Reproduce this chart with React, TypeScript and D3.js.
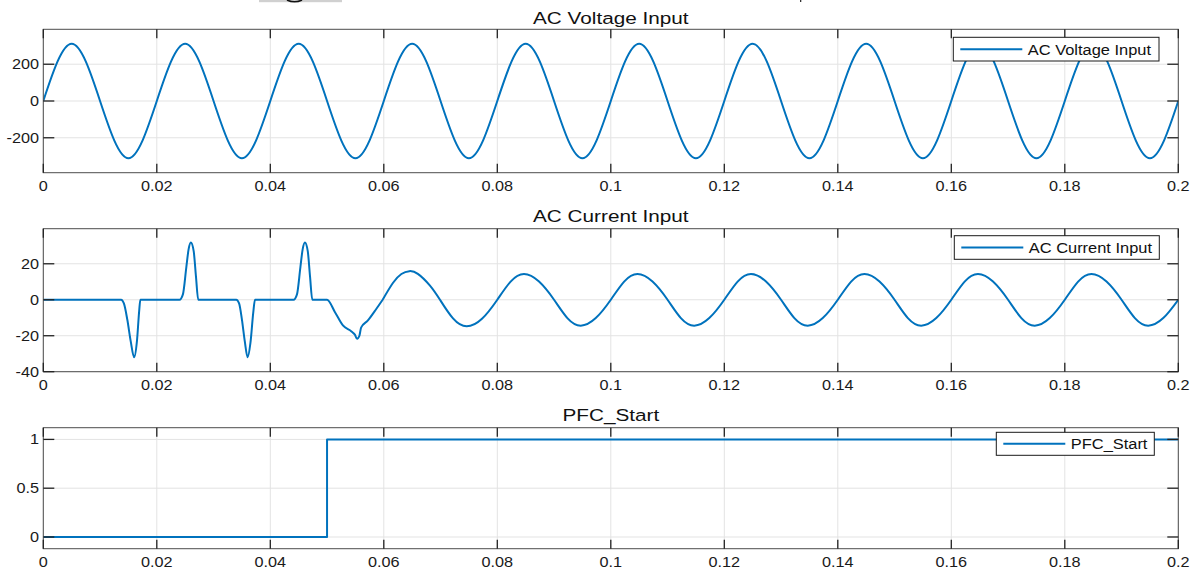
import * as d3 from "d3";

// x axis (time, s)
const timeTicks = [0, 0.02, 0.04, 0.06, 0.08, 0.1, 0.12, 0.14, 0.16, 0.18, 0.2];

// y ticks per panel
const voltageTicks = [-200, 0, 200];
const currentTicks = [-40, -20, 0, 20];
const pfcTicks = [0, 0.5, 1];

// AC voltage: zero crossings and peaks, read every quarter period (50 Hz, ~311 V peak)
const voltagePoints: [number, number][] = [
  [0, 0], [0.005, 311], [0.01, 0], [0.015, -311],
  [0.02, 0], [0.025, 311], [0.03, 0], [0.035, -311],
  [0.04, 0], [0.045, 311], [0.05, 0], [0.055, -311],
  [0.06, 0], [0.065, 311], [0.07, 0], [0.075, -311],
  [0.08, 0], [0.085, 311], [0.09, 0], [0.095, -311],
  [0.1, 0], [0.105, 311], [0.11, 0], [0.115, -311],
  [0.12, 0], [0.125, 311], [0.13, 0], [0.135, -311],
  [0.14, 0], [0.145, 311], [0.15, 0], [0.155, -311],
  [0.16, 0], [0.165, 311], [0.17, 0], [0.175, -311],
  [0.18, 0], [0.185, 311], [0.19, 0], [0.195, -311],
  [0.2, 0],
];

// AC current: inrush pulses, then PFC start at 0.05 s and ~14 A sinusoid
const currentPoints: [number, number][] = [
  [0, 0], [0.0137, 0], [0.0142, -2], [0.0148, -11], [0.0154, -23], [0.016, -32], [0.0165, -23], [0.0169, -6], [0.0171, 0],
  [0.024, 0], [0.0246, 3], [0.0252, 18], [0.0256, 28], [0.026, 31.8], [0.0265, 27], [0.0269, 13], [0.0273, 0],
  [0.034, 0], [0.0345, -2], [0.035, -11], [0.0355, -23], [0.036, -32], [0.0365, -24], [0.037, -7], [0.0373, 0],
  [0.0441, 0], [0.0447, 3], [0.0453, 18], [0.0457, 28], [0.0461, 31.8], [0.0466, 27], [0.047, 13], [0.0474, 0],
  [0.05, 0], [0.0514, -6.9], [0.0528, -14.3], [0.0543, -17.6], [0.0549, -19.4], [0.0553, -21.7], [0.0557, -20],
  [0.056, -15.5], [0.0572, -11.5], [0.0587, -5], [0.0598, 0],
  [0.0616, 9.3], [0.0631, 14.3], [0.0645, 15.9], [0.066, 14.4], [0.0681, 8], [0.0699, 0],
  [0.0722, -10.4], [0.0746, -14.8], [0.0773, -10.6],
  [0.08, 0], [0.08235, 10.1], [0.0847, 14.3], [0.08735, 10.1], [0.09, 0], [0.09235, -10.2], [0.0947, -14.4], [0.09735, -10.2],
  [0.1, 0], [0.10235, 10.1], [0.1047, 14.3], [0.10735, 10.1], [0.11, 0], [0.11235, -10.2], [0.1147, -14.4], [0.11735, -10.2],
  [0.12, 0], [0.12235, 10.1], [0.1247, 14.3], [0.12735, 10.1], [0.13, 0], [0.13235, -10.2], [0.1347, -14.4], [0.13735, -10.2],
  [0.14, 0], [0.14235, 10.1], [0.1447, 14.3], [0.14735, 10.1], [0.15, 0], [0.15235, -10.2], [0.1547, -14.4], [0.15735, -10.2],
  [0.16, 0], [0.16235, 10.1], [0.1647, 14.3], [0.16735, 10.1], [0.17, 0], [0.17235, -10.2], [0.1747, -14.4], [0.17735, -10.2],
  [0.18, 0], [0.18235, 10.1], [0.1847, 14.3], [0.18735, 10.1], [0.19, 0], [0.19235, -10.2], [0.1947, -14.4], [0.19735, -10.2],
  [0.2, 0],
];
// pulses are drawn with a monotone curve, the sinusoid after this time with a natural spline
const currentSplitTime = 0.0598;

// PFC start flag
const pfcPoints: [number, number][] = [
  [0, 0], [0.05, 1], [0.2, 1],
];

const W = 1197;
const H = 572;
const LEFT = 43.3;
const RIGHT = 1178.3;
const BLUE = "#0072BD";
const FONT = "'Liberation Sans', Arial, Helvetica, sans-serif";

const fmtTime = (t: number) => String(+t.toFixed(2));

type Segment = { points: [number, number][]; curve: d3.CurveFactory };

type PanelProps = {
  id: string;
  title: string;
  titleY: number;
  top: number;
  bottom: number;
  yDomain: [number, number];
  yTicks: number[];
  segments: Segment[];
  legend: { x: number; y: number; w: number; h: number; label: string };
};

function Panel({ id, title, titleY, top, bottom, yDomain, yTicks, segments, legend }: PanelProps) {
  const x = d3.scaleLinear().domain([0, 0.2]).range([LEFT, RIGHT]);
  const y = d3.scaleLinear().domain(yDomain).range([bottom, top]);
  const pathD = segments
    .map((s) =>
      d3
        .line<[number, number]>()
        .x((d) => x(d[0]))
        .y((d) => y(d[1]))
        .curve(s.curve)(s.points)
    )
    .join(" ");

  return (
    <g>
      <defs>
        <clipPath id={id}>
          <rect x={LEFT} y={top} width={RIGHT - LEFT} height={bottom - top} />
        </clipPath>
      </defs>
      <rect x={LEFT} y={top} width={RIGHT - LEFT} height={bottom - top} fill="#fff" />

      {/* grid */}
      {timeTicks.map((t) => (
        <line key={"gx" + t} x1={x(t)} x2={x(t)} y1={top} y2={bottom} stroke="#e3e3e3" strokeWidth={1} />
      ))}
      {yTicks.map((v) => (
        <line key={"gy" + v} x1={LEFT} x2={RIGHT} y1={y(v)} y2={y(v)} stroke="#e3e3e3" strokeWidth={1} />
      ))}

      {/* data */}
      <path d={pathD} fill="none" stroke={BLUE} strokeWidth={2} clipPath={`url(#${id})`} strokeLinejoin="round" />

      {/* frame */}
      <rect x={LEFT} y={top} width={RIGHT - LEFT} height={bottom - top} fill="none" stroke="#4d4d4d" strokeWidth={1} />

      {/* ticks */}
      {timeTicks.map((t) => (
        <g key={"tx" + t}>
          <line x1={x(t)} x2={x(t)} y1={bottom} y2={bottom - 9} stroke="#222" strokeWidth={1.3} />
          <line x1={x(t)} x2={x(t)} y1={top} y2={top + 9} stroke="#222" strokeWidth={1.3} />
          <text
            transform={`translate(${x(t)},${bottom + 18}) scale(1.16,1)`}
            textAnchor="middle"
            fontSize={14}
            fontFamily={FONT}
            fill="#1a1a1a"
          >
            {fmtTime(t)}
          </text>
        </g>
      ))}
      {yTicks.map((v) => (
        <g key={"ty" + v}>
          <line x1={LEFT} x2={LEFT + 11} y1={y(v)} y2={y(v)} stroke="#222" strokeWidth={1.3} />
          <line x1={RIGHT} x2={RIGHT - 11} y1={y(v)} y2={y(v)} stroke="#222" strokeWidth={1.3} />
          <text
            transform={`translate(39,${y(v) + 5}) scale(1.16,1)`}
            textAnchor="end"
            fontSize={14}
            fontFamily={FONT}
            fill="#1a1a1a"
          >
            {v}
          </text>
        </g>
      ))}

      {/* title */}
      <text
        transform={`translate(${(LEFT + RIGHT) / 2},${titleY}) scale(1.22,1)`}
        textAnchor="middle"
        fontSize={17}
        fontFamily={FONT}
        fill="#111"
      >
        {title}
      </text>

      {/* legend */}
      <rect x={legend.x} y={legend.y} width={legend.w} height={legend.h} fill="#fff" stroke="#1a1a1a" strokeWidth={1} />
      <line
        x1={legend.x + 7}
        x2={legend.x + 69}
        y1={legend.y + legend.h / 2}
        y2={legend.y + legend.h / 2}
        stroke={BLUE}
        strokeWidth={2}
      />
      <text
        transform={`translate(${legend.x + 74.5},${legend.y + legend.h / 2 + 5.4}) scale(1.11,1)`}
        fontSize={14.8}
        fontFamily={FONT}
        fill="#111"
      >
        {legend.label}
      </text>
    </g>
  );
}

export default function App() {
  const currentPulses = currentPoints.filter((d) => d[0] <= currentSplitTime);
  const currentSine = currentPoints.filter((d) => d[0] >= currentSplitTime);

  return (
    <svg
      width={W}
      height={H}
      viewBox={`0 0 ${W} ${H}`}
      style={{ position: "absolute", left: 0, top: 0, background: "#fff" }}
    >
      <rect width={W} height={H} fill="#fff" />
      {/* cropped remnants at top edge */}
      <rect x={259} y={0} width={83} height={2.2} fill="#d0d0d0" />
      <path d="M287,0 Q294.5,3.6 302,0" fill="none" stroke="#111" strokeWidth={1.6} />
      <rect x={800} y={0} width={1.3} height={2} fill="#333" />

      <Panel
        id="clip-v"
        title="AC Voltage Input"
        titleY={24.3}
        top={29.3}
        bottom={172.7}
        yDomain={[-390, 390]}
        yTicks={voltageTicks}
        segments={[{ points: voltagePoints, curve: d3.curveNatural }]}
        legend={{ x: 953.3, y: 37.3, w: 205.7, h: 23.7, label: "AC Voltage Input" }}
      />
      <Panel
        id="clip-i"
        title="AC Current Input"
        titleY={222.3}
        top={228.7}
        bottom={371.7}
        yDomain={[-40, 39.5]}
        yTicks={currentTicks}
        segments={[
          { points: currentPulses, curve: d3.curveMonotoneX },
          { points: currentSine, curve: d3.curveNatural },
        ]}
        legend={{ x: 954.3, y: 235.7, w: 205, h: 23.6, label: "AC Current Input" }}
      />
      <Panel
        id="clip-p"
        title="PFC_Start"
        titleY={421.3}
        top={427.7}
        bottom={548.7}
        yDomain={[-0.12, 1.12]}
        yTicks={pfcTicks}
        segments={[{ points: pfcPoints, curve: d3.curveStepAfter }]}
        legend={{ x: 996.3, y: 432.3, w: 158, h: 23, label: "PFC_Start" }}
      />
    </svg>
  );
}
